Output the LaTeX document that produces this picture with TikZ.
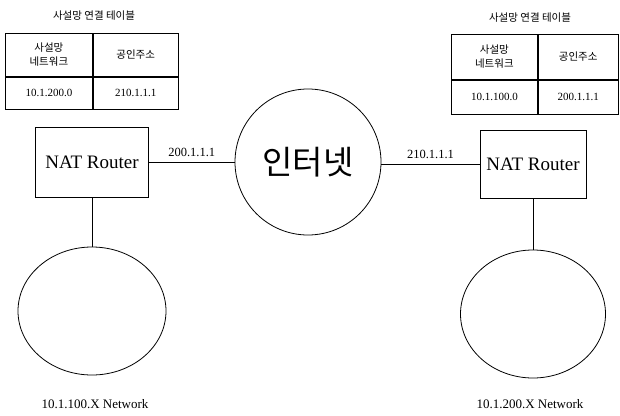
\documentclass[tikz,border=0pt]{standalone}
\usepackage{fontspec}
\setmainfont{Liberation Serif}
\newfontfamily\kor{Noto Sans CJK KR}
\usetikzlibrary{shapes.geometric,positioning}

\begin{document}
\begin{tikzpicture}[x=1pt, y=-1pt, line width=0.8pt,
    cell/.style={draw, rectangle, inner sep=0pt, align=center, font=\kor\fontsize{10.5}{14}\selectfont},
    addr/.style={draw, rectangle, inner sep=0pt, font=\fontsize{11}{13}\selectfont},
    title/.style={font=\kor\fontsize{10.5}{12}\selectfont},
    router/.style={draw, rectangle, minimum width=113pt, minimum height=70pt, font=\fontsize{19}{22}\selectfont},
    lan/.style={draw, ellipse, minimum width=148pt, minimum height=128pt},
    iplabel/.style={font=\fontsize{12.5}{14}\selectfont}]
  \useasboundingbox (0,0) rectangle (620,415);

  % left table
  \node[title] (ltitle) at (94,16) {사설망 연결 테이블};
  \node[cell, minimum width=87pt, minimum height=43pt, anchor=north west] (la) at (5,33) {사설망\\네트워크};
  \node[cell, minimum width=85pt, minimum height=43pt, right=0pt of la] (lb) {공인주소};
  \node[addr, minimum width=87pt, minimum height=32pt, below=0pt of la] (lc) {10.1.200.0};
  \node[addr, minimum width=85pt, minimum height=32pt, below=0pt of lb] (ld) {210.1.1.1};

  % right table
  \node[title] (rtitle) at (530,18) {사설망 연결 테이블};
  \node[cell, minimum width=86pt, minimum height=45pt, anchor=north west] (ra) at (451,34) {사설망\\네트워크};
  \node[cell, minimum width=80pt, minimum height=45pt, right=0pt of ra] (rb) {공인주소};
  \node[addr, minimum width=86pt, minimum height=34pt, below=0pt of ra] (rc) {10.1.100.0};
  \node[addr, minimum width=80pt, minimum height=34pt, below=0pt of rb] (rd) {200.1.1.1};

  % routers and internet
  \node[router] (lr) at (92,162) {NAT Router};
  \node[router, minimum width=106pt, minimum height=68pt] (rr) at (533,164) {NAT Router};
  \node[draw, circle, minimum size=146pt, font=\kor\fontsize{33}{36}\selectfont] (net) at (308,162) {인터넷};

  \draw (lr.east) -- (lr.east -| net.west) node[iplabel, midway, above=2pt] {200.1.1.1};
  \draw (rr.west -| net.east) -- (rr.west) node[iplabel, midway, above=2pt] {210.1.1.1};

  % private networks
  \node[lan] (llan) at (92,311) {};
  \node[lan, minimum width=145pt] (rlan) at (533,314) {};
  \draw (lr.south) -- (llan.north);
  \draw (rr.south) -- (rlan.north);

  \node[font=\fontsize{13}{15}\selectfont] (lname) at (95,404) {10.1.100.X Network};
  \node[font=\fontsize{13}{15}\selectfont] (rname) at (530,404) {10.1.200.X Network};
\end{tikzpicture}
\end{document}
